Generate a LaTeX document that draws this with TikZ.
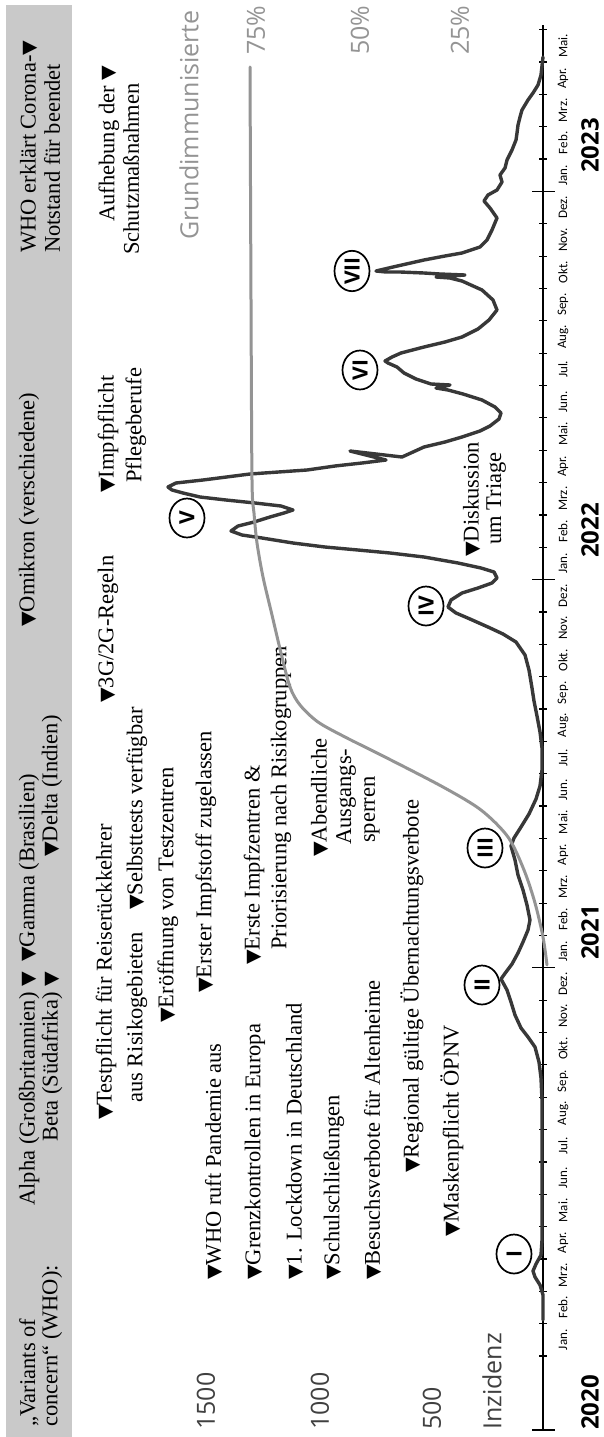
\documentclass[tikz,border=0pt]{standalone}
\usepackage{fontspec}
\usepackage{graphicx}
\setmainfont{Liberation Serif}
\newfontfamily\osans{Open Sans}
\newfontfamily\carl{Carlito}
\newfontfamily\dejavu{DejaVu Sans}
\usetikzlibrary{shapes.geometric}
\newcommand\tri{{\dejavu\fontsize{19}{19}\selectfont ▼}}
\begin{document}
\begin{tikzpicture}[x=1pt,y=-1pt,
  ev/.style={rotate=90, inner sep=0pt, anchor=west, font=\fontsize{22.5}{22.5}\selectfont},
  eve/.style={ev, anchor=east},
  axl/.style={rotate=90, inner sep=0pt, anchor=west, text=black!75, font=\osans\fontsize{25}{25}\selectfont},
  pct/.style={rotate=90, inner sep=0pt, anchor=west, text=black!42, font=\osans\fontsize{25}{25}\selectfont},
  mon/.style={rotate=90, inner sep=0pt, anchor=center, font=\carl\fontsize{13}{13}\selectfont},
  yr/.style={rotate=90, inner sep=0pt, anchor=west, font=\osans\bfseries\fontsize{24}{24}\selectfont},
  wave/.style={rotate=90, ellipse, draw=black, fill=white, line width=1.7pt, inner sep=0.5pt,
               minimum width=39pt, minimum height=35pt, font=\osans\bfseries\fontsize{21}{21}\selectfont},
  axisline/.style={draw=black, line width=1.4pt},
  tickline/.style={draw=black, line width=1.2pt},
  inc/.style={draw=black!78, line width=3.4pt, line join=round, line cap=round},
  vacc/.style={draw=black!42, line width=3pt, line join=round, line cap=round},
]
\useasboundingbox (0,0) rectangle (604,1437);
\fill[white] (0,0) rectangle (604,1437);
% band
\fill[black!21] (6,5) rectangle (72,1437);
\node[ev] (b1) at (29,1427) {„Variants of};
\node[ev] (b2) at (52,1427) {concern“ (WHO):};
\node[eve] (b3) at (29,972) {Alpha (Großbritannien) \tri};
\node[eve] (b4) at (52,972) {Beta (Südafrika) \tri};
\node[ev] (b5) at (29,962) {\tri Gamma (Brasilien)};
\node[ev] (b6) at (52,857) {\tri Delta (Indien)};
\node[ev] (b7) at (29,627) {\tri Omikron (verschiedene)};
\node[ev] (b8) at (29,253) {WHO erklärt Corona-\tri};
\node[ev] (b9) at (52,253) {Notstand für beendet};
% events
\node[ev] (e1) at (106,1120) {\tri Testpflicht für Reiserückkehrer};
\node[ev] (e2) at (137,1103) {aus Risikogebieten};
\node[ev] (e3) at (137,910) {\tri Selbsttests verfügbar};
\node[ev] (e4) at (168,1023) {\tri Eröffnung von Testzentren};
\node[ev] (e5) at (206,993) {\tri Erster Impfstoff zugelassen};
\node[ev] (e6) at (254,965) {\tri Erste Impfzentren \&};
\node[ev] (e7) at (281,950) {Priorisierung nach Risikogruppen};
\node[ev] (e8) at (320,857) {\tri Abendliche};
\node[ev] (e9) at (346,845) {Ausgangs-};
\node[ev] (e10) at (372,843) {sperren};
\node[ev] (e11) at (214,1280) {\tri WHO ruft Pandemie aus};
\node[ev] (e12) at (255,1280) {\tri Grenzkontrollen in Europa};
\node[ev] (e13) at (295,1280) {\tri 1. Lockdown in Deutschland};
\node[ev] (e14) at (334,1280) {\tri Schulschließungen};
\node[ev] (e15) at (373,1280) {\tri Besuchsverbote für Altenheime};
\node[ev] (e16) at (412,1173) {\tri Regional gültige Übernachtungsverbote};
\node[ev] (e17) at (452,1237) {\tri Maskenpflicht ÖPNV};
\node[ev] (e18) at (108,703) {\tri 3G/2G-Regeln};
\node[ev] (e19) at (108,493) {\tri Impfpflicht};
\node[ev] (e20) at (136,483) {Pflegeberufe};
\node[ev] (e21) at (109,222) {Aufhebung der \tri};
\node[ev] (e22) at (131,255) {Schutzmaßnahmen};
\node[ev] (e23) at (472,557) {\tri Diskussion};
\node[ev] (e24) at (496,545) {um Triage};
% scale labels
\node[pct] (g) at (189,240) {Grundimmunisierte};
\node[pct] (p75) at (256,55) {75\%};
\node[pct] (p50) at (360,55) {50\%};
\node[pct] (p25) at (460,55) {25\%};
\node[axl] (i1500) at (206,1430) {1500};
\node[axl] (i1000) at (320,1430) {1000};
\node[axl] (i500) at (432,1430) {500};
\node[axl] (iname) at (492,1430) {Inzidenz};
% time axis
\coordinate (axtop) at (543,25);
\coordinate (axbot) at (543,1430);
\draw[axisline] (axbot) -- (axtop);
\draw[tickline] (532,1430) -- (555,1430);
\foreach \t in {0,...,41}{
  \draw[tickline] (539,{1356-32.35*\t}) -- (547,{1356-32.35*\t});
}
\foreach \t in {12,24,36}{
  \draw[tickline] (532,{1356-32.35*\t}) -- (555,{1356-32.35*\t});
}
\foreach \m [count=\i from 0] in {Jan.,Feb.,Mrz.,Apr.,Mai.,Jun.,Jul.,Aug.,Sep.,Okt.,Nov.,Dez.,
  Jan.,Feb.,Mrz.,Apr.,Mai.,Jun.,Jul.,Aug.,Sep.,Okt.,Nov.,Dez.,
  Jan.,Feb.,Mrz.,Apr.,Mai.,Jun.,Jul.,Aug.,Sep.,Okt.,Nov.,Dez.,
  Jan.,Feb.,Mrz.,Apr.,Mai.}{
  \node[mon] (m\i) at (563,{1356-32.35*(\i+0.5)}) {\m};
}
\node[yr] (y2020) at (590,1430) {2020};
\node[yr] (y2021) at (590,960) {2021};
\node[yr] (y2022) at (590,558) {2022};
\node[yr] (y2023) at (590,173) {2023};
% incidence curve
\draw[inc] plot coordinates {(543,1320) (543,1295) (540,1285) (535,1277) (533,1271) (536,1264) (541,1255) (542,1240) (542,1100) (541,1078) (539,1062) (535,1047) (528,1037) (521,1028) (515,1015) (511,1002) (507,990) (501,979) (506,972) (512,964) (518,953) (523,942) (528,930) (530,920) (527,905) (523,890) (518,875) (515,860) (511,846) (514,838) (521,827) (529,814) (536,799) (540,786) (542,770) (542,748) (540,732) (537,716) (534,701) (532,688) (529,670) (525,655) (516,642) (503,634) (488,627) (470,619) (456,613) (448,607) (451,600) (462,593) (478,588) (492,583) (497,578) (494,572) (481,568) (458,563) (424,557) (390,553) (358,550) (325,547) (293,543) (262,538) (242,535) (231,531) (238,526) (254,522) (270,517) (284,513) (293,510) (281,506) (255,503) (226,500) (200,497) (183,493) (172,490) (168,487) (176,483) (203,480) (250,474) (307,470) (335,466) (362,463) (386,460) (350,451) (402,457) (424,447) (445,442) (462,437) (480,431) (490,426) (499,419) (501,413) (495,407) (482,400) (463,394) (448,390) (436,388) (450,385) (431,384) (416,379) (404,373) (397,367) (388,363) (385,361) (392,357) (401,353) (424,347) (445,342) (462,337) (478,329) (489,320) (497,310) (493,300) (482,290) (462,281) (450,278) (436,277) (465,275) (440,274) (424,273) (400,272) (386,272) (376,271) (393,267) (424,260) (445,256) (462,253) (480,247) (487,240) (492,230) (497,218) (490,208) (484,201) (488,195) (497,190) (502,182) (500,175) (505,168) (507,160) (512,150) (516,140) (517,133) (518,125) (520,117) (522,110) (528,100) (533,93) (538,85) (541,75) (543,57)};
% vaccination curve
\draw[vacc] plot[smooth, tension=0.5] coordinates {(547,965) (543,937) (535,903) (524,870) (508,837) (481,810) (443,787) (385,757) (345,737) (318,722) (300,705) (290,687) (281,653) (272,615) (263,577) (257,543) (254,513) (252,480) (251,300) (250,67)};
% waves
\node[wave] (w1) at (514,1254) {I};
\node[wave] (w2) at (482,985) {II};
\node[wave] (w3) at (485,848) {III};
\node[wave] (w4) at (426,606) {IV};
\node[wave] (w5) at (187,518) {V};
\node[wave] (w6) at (360,370) {VI};
\node[wave] (w7) at (352,271) {VII};
\end{tikzpicture}
\end{document}
